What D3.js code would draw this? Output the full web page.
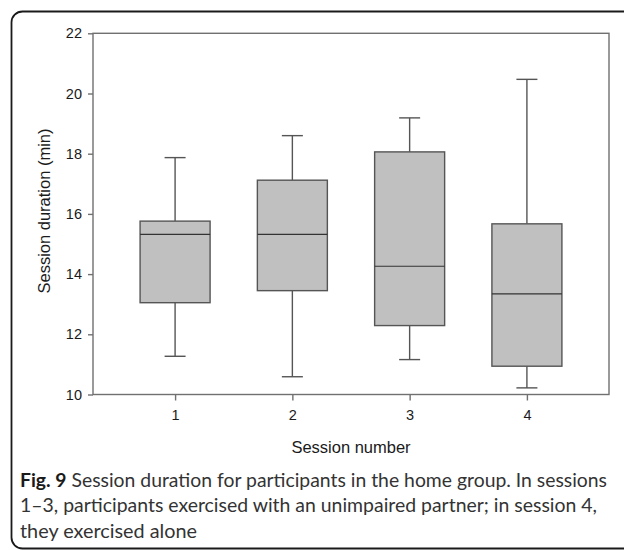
<!DOCTYPE html>
<html><head><meta charset="utf-8">
<script src="https://cdn.jsdelivr.net/npm/d3@7"></script>
<style>body{margin:0;background:#fff}svg{display:block}</style>
</head><body>
<script>
const sessions = ["1", "2", "3", "4"];
const whiskerLow = [11.27, 10.59, 11.16, 10.22];
const q1 = [13.05, 13.45, 12.29, 10.94];
const median = [15.32, 15.32, 14.26, 13.34];
const q3 = [15.76, 17.12, 18.06, 15.67];
const whiskerHigh = [17.87, 18.6, 19.19, 20.47];
const yTicks = [10, 12, 14, 16, 18, 20, 22];
const xTitle = "Session number";
const yTitle = "Session duration (min)";
const captionLines = [
  ["Fig. 9", " Session duration for participants in the home group. In sessions"],
  ["", "1\u20133, participants exercised with an unimpaired partner; in session 4,"],
  ["", "they exercised alone"]
];

const W = 624, H = 550;
const svg = d3.select("body").append("svg").attr("width", W).attr("height", H);

// outer frame
svg.append("rect").attr("x", 11.5).attr("y", 11.5).attr("width", 700).attr("height", 537)
  .attr("rx", 11).attr("fill", "none").attr("stroke", "#1a1a1a").attr("stroke-width", 1.8);

const L = 93, R = 609, T = 33.3, B = 394.5;
const x = d3.scalePoint().domain(sessions).range([L, R]).padding(0.7);
const y = d3.scaleLinear().domain([10, 22]).range([B, T]);
const axisCol = "#707070";

// plot frame
svg.append("rect").attr("x", L).attr("y", T).attr("width", R - L).attr("height", B - T)
  .attr("fill", "none").attr("stroke", axisCol).attr("stroke-width", 1.4);

const yAxis = svg.append("g").attr("transform", `translate(${L},0)`)
  .call(d3.axisLeft(y).tickValues(yTicks).tickSize(5).tickPadding(6).tickFormat(d3.format("d")));
const xAxis = svg.append("g").attr("transform", `translate(0,${B})`)
  .call(d3.axisBottom(x).tickSize(6).tickPadding(9));
[yAxis, xAxis].forEach(g => {
  g.attr("font-size", null).attr("font-family", null);
  g.select(".domain").remove();
  g.selectAll("line").attr("stroke", axisCol).attr("stroke-width", 1.4);
  g.selectAll("text").style("font-family", "'Liberation Sans', Arial, sans-serif")
    .style("font-size", "14.5px").attr("fill", "#1a1a1a");
});

const boxW = 70, capW = 21;
const data = sessions.map((s, i) => ({s, lo: whiskerLow[i], q1: q1[i], med: median[i], q3: q3[i], hi: whiskerHigh[i]}));
const stroke = "#555", sw = 1.4;
const g = svg.append("g");
data.forEach(d => {
  const cx = x(d.s);
  g.append("line").attr("x1", cx).attr("x2", cx).attr("y1", y(d.hi)).attr("y2", y(d.q3)).attr("stroke", stroke).attr("stroke-width", sw);
  g.append("line").attr("x1", cx).attr("x2", cx).attr("y1", y(d.q1)).attr("y2", y(d.lo)).attr("stroke", stroke).attr("stroke-width", sw);
  g.append("line").attr("x1", cx - capW / 2).attr("x2", cx + capW / 2).attr("y1", y(d.hi)).attr("y2", y(d.hi)).attr("stroke", stroke).attr("stroke-width", sw);
  g.append("line").attr("x1", cx - capW / 2).attr("x2", cx + capW / 2).attr("y1", y(d.lo)).attr("y2", y(d.lo)).attr("stroke", stroke).attr("stroke-width", sw);
  g.append("rect").attr("x", cx - boxW / 2).attr("y", y(d.q3)).attr("width", boxW).attr("height", y(d.q1) - y(d.q3))
    .attr("fill", "#c0c0c0").attr("stroke", stroke).attr("stroke-width", sw);
  g.append("line").attr("x1", cx - boxW / 2).attr("x2", cx + boxW / 2).attr("y1", y(d.med)).attr("y2", y(d.med)).attr("stroke", "#333").attr("stroke-width", 1.2);
});

svg.append("text").attr("x", (L + R) / 2).attr("y", 453).attr("text-anchor", "middle")
  .style("font-family", "'Liberation Sans', Arial, sans-serif").style("font-size", "16.5px").attr("fill", "#1a1a1a").text(xTitle);
svg.append("text").attr("transform", `translate(50,211) rotate(-90)`).attr("text-anchor", "middle")
  .style("font-family", "'Liberation Sans', Arial, sans-serif").style("font-size", "16.5px").attr("fill", "#1a1a1a").text(yTitle);

const capWidths = [587, 577, 177];
captionLines.forEach((ln, i) => {
  const t = svg.append("text").attr("x", 20).attr("y", 487 + i * 25.3)
    .style("font-family", "Lato, 'Open Sans', sans-serif").style("font-size", "19px").attr("fill", "#333")
    .attr("textLength", capWidths[i]).attr("lengthAdjust", "spacingAndGlyphs");
  if (ln[0]) t.append("tspan").attr("font-weight", "bold").attr("fill", "#1a1a1a").text(ln[0]);
  t.append("tspan").text(ln[1]);
});
</script>
</body></html>
